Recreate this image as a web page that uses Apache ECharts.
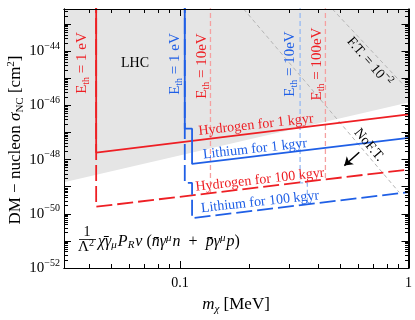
<!DOCTYPE html>
<html>
<head>
<meta charset="utf-8">
<script src="https://cdn.jsdelivr.net/npm/echarts@6/dist/echarts.min.js"></script>
<style>
html, body { margin: 0; padding: 0; background: #fff; }
#chart { width: 415px; height: 320px; }
</style>
</head>
<body>
<div id="chart"></div>
<script>
// axis ranges and ticks
const xRange = [0.0311, 1];
const yRange = [1e-52, 3.6e-43];
const xMajorTicks = [0.1, 1];
const xMinorTicks = [0.04, 0.05, 0.06, 0.07, 0.08, 0.09, 0.2, 0.3, 0.4, 0.5, 0.6, 0.7, 0.8, 0.9];
const yMajorTicks = [1e-52, 1e-51, 1e-50, 1e-49, 1e-48, 1e-47, 1e-46, 1e-45, 1e-44, 1e-43];
const yLabelTicks = [1e-52, 1e-50, 1e-48, 1e-46, 1e-44];
const yMinorTicks = [];
for (let e = -53; e <= -43; e++) {
    for (let k = 2; k <= 9; k++) yMinorTicks.push(k * Math.pow(10, e));
}

// curves: [m_chi (MeV), sigma (cm^2)]
const hydrogen1 = [[0.043, 1e-42], [0.043, 1.82e-48], [1, 4.68e-47]];
const hydrogen100 = [[0.043, 1e-42], [0.043, 1.82e-50], [1, 4.3e-49]];
const lithium1 = [[0.105, 1e-42], [0.105, 1.38e-47], [0.113, 1.38e-47], [0.113, 6.9e-49], [1, 6.3e-48]];
const lithium100 = [[0.105, 1e-42], [0.105, 1.38e-49], [0.113, 1.38e-49], [0.113, 6.9e-51], [1, 6.3e-50]];
const hydrogen10eV = [[0.136, 1e-42], [0.136, 5.8e-50]];
const hydrogen100eV = [[0.433, 1e-42], [0.433, 1.84e-49]];
const lithium10eV = [[0.3355, 1e-42], [0.3355, 1.38e-49], [0.361, 1.38e-49], [0.361, 2.2e-50]];
const lhcEdge = [[0.0311, 1.45e-49], [1, 1.29e-46]];
const noFineTuning = [[0.19, 3.6e-43], [0.91, 6.2e-50]];
const fineTuning2 = [[0.464, 3.6e-43], [1, 3.6e-46]];
const arrowPts = [[0.609, 1.86e-48], [0.524, 6.0e-49]];

const RED = '#ee1f24';
const BLUE = '#1f5fe6';
const SERIF = 'Liberation Serif';

// the cross-section axis is drawn on decades (log10 of sigma)
const lg = v => Math.log10(v);
const toPlot = pts => pts.map(p => [p[0], lg(p[1])]);

const chart = echarts.init(document.getElementById('chart'));

function xAx(grid, pos, ticks, len, withLabels) {
    return {
        type: 'log', gridIndex: grid, position: pos, min: xRange[0], max: xRange[1], z: 10,
        axisLine: { show: true, lineStyle: { color: '#000', width: 1 } },
        axisTick: { show: true, inside: true, length: len, customValues: ticks, lineStyle: { color: '#000' } },
        axisLabel: withLabels ? {
            show: true, customValues: xMajorTicks, margin: 8, color: '#000',
            fontFamily: SERIF, fontSize: 14,
            formatter: v => (v < 0.5 ? '0.1' : '1')
        } : { show: false },
        splitLine: { show: false }
    };
}

function yAx(grid, pos, ticks, len, withLabels) {
    return {
        type: 'value', gridIndex: grid, position: pos, min: lg(yRange[0]), max: lg(yRange[1]), z: 10,
        axisLine: { show: true, lineStyle: { color: '#000', width: 1 } },
        axisTick: { show: true, inside: true, length: len, customValues: ticks.map(lg), lineStyle: { color: '#000' } },
        axisLabel: withLabels ? {
            show: true, customValues: yLabelTicks.map(lg), margin: 4, color: '#000',
            formatter: v => '{b|10}{s|\u2212' + Math.abs(Math.round(v)) + '}',
            rich: {
                b: { fontFamily: SERIF, fontSize: 15, color: '#000' },
                s: { fontFamily: SERIF, fontSize: 10, color: '#000', padding: [0, 0, 10, 0] }
            }
        } : { show: false },
        splitLine: { show: false }
    };
}

function curve(data, color, width, dash, z) {
    return {
        type: 'line', data: toPlot(data), xAxisIndex: 0, yAxisIndex: 0, showSymbol: false, symbol: 'none',
        lineStyle: { color: color, width: width, type: dash || 'solid' }, z: z || 3, silent: true
    };
}

function rotText(x, y, rot, text, rich, extra) {
    return Object.assign({
        type: 'text', x: x, y: y, rotation: rot, z: 20,
        style: { text: text, rich: rich, align: 'center', verticalAlign: 'middle' }
    }, extra || {});
}

function ethRich(color) {
    return {
        e: { fontFamily: SERIF, fontSize: 15, fill: color },
        sub: { fontFamily: SERIF, fontSize: 10, fill: color, padding: [8, 0, 0, 0] }
    };
}

function lblRich(color) {
    return { t: { fontFamily: SERIF, fontSize: 14, fill: color } };
}

const option = {
    animation: false,
    backgroundColor: '#fff',
    grid: [
        { left: 64, right: 6, top: 9, bottom: 52 },
        { left: 64, right: 6, top: 9, bottom: 52 }
    ],
    xAxis: [
        xAx(0, 'bottom', xMajorTicks, 7, true),
        xAx(0, 'top', xMajorTicks, 7, false),
        xAx(1, 'bottom', xMinorTicks, 4, false),
        xAx(1, 'top', xMinorTicks, 4, false)
    ],
    yAxis: [
        yAx(0, 'left', yMajorTicks, 7, true),
        yAx(0, 'right', yMajorTicks, 7, false),
        yAx(1, 'left', yMinorTicks, 4, false),
        yAx(1, 'right', yMinorTicks, 4, false)
    ],
    series: [
        {
            type: 'line', data: toPlot(lhcEdge), xAxisIndex: 0, yAxisIndex: 0, showSymbol: false, symbol: 'none',
            lineStyle: { width: 0 }, areaStyle: { color: '#e5e5e5', opacity: 1, origin: 'end' }, z: 1, silent: true
        },
        curve(noFineTuning, '#b4b4b4', 1, [4, 3], 2),
        curve(fineTuning2, '#b4b4b4', 1, [4, 3], 2),
        curve(hydrogen10eV, '#f5a0a0', 1.3, [5, 3], 2),
        curve(hydrogen100eV, '#f5a0a0', 1.3, [5, 3], 2),
        curve(lithium10eV, '#96b9f2', 1.3, [5, 3], 2),
        curve(hydrogen1, RED, 1.8),
        curve(hydrogen100, RED, 1.8, [16, 5]),
        curve(lithium1, BLUE, 1.8),
        curve(lithium100, BLUE, 1.8, [16, 5]),
        {
            type: 'line', data: [], xAxisIndex: 0, yAxisIndex: 0, silent: true,
            markLine: {
                silent: true, symbol: ['none', 'arrow'], symbolSize: 8, label: { show: false },
                lineStyle: { color: '#000', width: 1.5, type: 'solid' },
                data: [[{ coord: toPlot(arrowPts)[0] }, { coord: toPlot(arrowPts)[1] }]]
            }
        }
    ],
    graphic: [
        rotText(82, 63, Math.PI / 2, '{e|E}{sub|th}{e| = 1 eV}', ethRich(RED)),
        rotText(175, 64, Math.PI / 2, '{e|E}{sub|th}{e| = 1 eV}', ethRich(BLUE)),
        rotText(202, 66, Math.PI / 2, '{e|E}{sub|th}{e| = 10eV}', ethRich(RED)),
        rotText(290, 64, Math.PI / 2, '{e|E}{sub|th}{e| = 10eV}', ethRich(BLUE)),
        rotText(317, 64, Math.PI / 2, '{e|E}{sub|th}{e| = 100eV}', ethRich(RED)),
        rotText(135, 63, 0, '{t|LHC}', lblRich('#000')),
        rotText(256, 125, 0.11, '{t|Hydrogen for 1 kgyr}', lblRich(RED)),
        rotText(255, 149, 0.11, '{t|Lithium for 1 kgyr}', lblRich(BLUE)),
        rotText(260, 180, 0.11, '{t|Hydrogen for 100 kgyr}', lblRich(RED)),
        rotText(260, 202, 0.11, '{t|Lithium for 100 kgyr}', lblRich(BLUE)),
        rotText(369, 62, -0.86, '{t|F.T. = 10}{s|\u22122}', {
            t: { fontFamily: SERIF, fontSize: 14, fill: '#000' },
            s: { fontFamily: SERIF, fontSize: 10, fill: '#000', padding: [0, 0, 10, 0] }
        }),
        rotText(369, 145, -0.87, '{t|NoF.T.}', lblRich('#000')),
        // interaction term
        rotText(87, 232, 0, '{t|1}', lblRich('#000')),
        { type: 'line', z: 20, shape: { x1: 79, y1: 239.5, x2: 96, y2: 239.5 }, style: { stroke: '#000', lineWidth: 0.8 } },
        rotText(86, 247, 0, '{t|\u039b}{s|2}', {
            t: { fontFamily: SERIF, fontSize: 15, fill: '#000' },
            s: { fontFamily: SERIF, fontSize: 10, fill: '#000', padding: [0, 0, 8, 0] }
        }),
        {
            type: 'text', x: 98, y: 242, z: 20,
            style: {
                text: '{i|\u03c7\u0304\u03b3}{sub|\u03bc}{i|P}{sub|R}{i|\u03bd}{r| (}{i|n\u0304\u03b3}{sup|\u03bc}{i|n}{r|  +  }{i|p\u0304\u03b3}{sup|\u03bc}{i|p}{r|)}',
                align: 'left', verticalAlign: 'middle',
                rich: {
                    i: { fontFamily: SERIF, fontStyle: 'italic', fontSize: 16, fill: '#000' },
                    r: { fontFamily: SERIF, fontSize: 16, fill: '#000' },
                    sub: { fontFamily: SERIF, fontStyle: 'italic', fontSize: 11, fill: '#000', padding: [7, 1, 0, 0] },
                    sup: { fontFamily: SERIF, fontStyle: 'italic', fontSize: 11, fill: '#000', padding: [0, 1, 8, 0] }
                }
            }
        },
        // axis names
        rotText(16, 140, Math.PI / 2, '{t|DM \u2212 nucleon }{i|\u03c3}{sub|NC}{t| [cm}{sup|2}{t|]}', {
            t: { fontFamily: SERIF, fontSize: 17, fill: '#000' },
            i: { fontFamily: SERIF, fontStyle: 'italic', fontSize: 17, fill: '#000' },
            sub: { fontFamily: SERIF, fontSize: 11, fill: '#000', padding: [8, 0, 0, 0] },
            sup: { fontFamily: SERIF, fontSize: 11, fill: '#000', padding: [0, 0, 10, 0] }
        }),
        rotText(236, 305, 0, '{i|m}{sub|\u03c7}{t| [MeV]}', {
            t: { fontFamily: SERIF, fontSize: 17, fill: '#000' },
            i: { fontFamily: SERIF, fontStyle: 'italic', fontSize: 17, fill: '#000' },
            sub: { fontFamily: SERIF, fontStyle: 'italic', fontSize: 11, fill: '#000', padding: [8, 0, 0, 0] }
        })
    ]
};

chart.setOption(option);
</script>
</body>
</html>
